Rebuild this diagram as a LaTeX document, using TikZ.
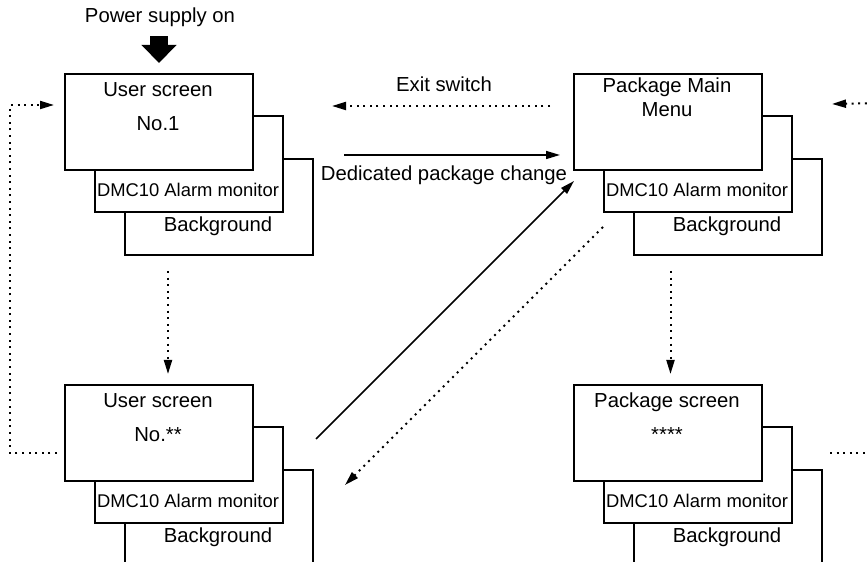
\documentclass[tikz,border=0pt]{standalone}
\usepackage{fontspec}
\setmainfont{Liberation Sans}
\usetikzlibrary{positioning,arrows.meta}

\begin{document}
\begin{tikzpicture}[
  x=0.5pt,y=-0.5pt,
  font=\fontsize{10.15}{12}\selectfont,
  panel/.style={draw,line width=1pt,fill=white,minimum width=94pt,minimum height=48pt,inner sep=0pt,anchor=north west},
  txt/.style={inner sep=0pt,anchor=base},
  small/.style={txt,font=\fontsize{9.2}{11}\selectfont},
  arr/.style={line width=0.8pt,->},
  dotl/.style={line width=1pt,dash pattern=on 1pt off 2.3pt},
  dotarr/.style={dotl,->},
  >={Triangle[length=7pt,width=4pt]}
]
\useasboundingbox (0,0) rectangle (867,565);
\clip (0,0) rectangle (867,562);

% ---------------- user screen No.1 ----------------
\node[txt] (pwr) at (160,23) {Power supply on};
\node[panel] (bkg1) at (124,158) {};
\node[panel] (alm1) at (94,115) {};
\node[panel] (usr1) at (64,73) {};
\node[txt] (usr1a) at (158,97) {User screen};
\node[txt] (usr1b) at (158,131) {No.1};
\node[small] (alm1t) at (188,197) {DMC10 Alarm monitor};
\node[txt] (bkg1t) at (218,232) {Background};

% ---------------- user screen No.** ----------------
\begin{scope}[shift={(0,311)}]
\node[panel] (bkgn) at (124,158) {};
\node[panel] (almn) at (94,115) {};
\node[panel] (usrn) at (64,73) {};
\node[txt] (usrna) at (158,97) {User screen};
\node[txt] (usrnb) at (158,131) {No.**};
\node[small] (almnt) at (188,197) {DMC10 Alarm monitor};
\node[txt] (bkgnt) at (218,232) {Background};
\end{scope}

% ---------------- package main menu ----------------
\begin{scope}[shift={(509,0)}]
\node[panel] (bkgm) at (124,158) {};
\node[panel] (almm) at (94,115) {};
\node[panel] (pkgm) at (64,73) {};
\node[txt] (pkgma) at (158,93) {Package Main};
\node[txt] (pkgmb) at (158,117) {Menu};
\node[small] (almmt) at (188,197) {DMC10 Alarm monitor};
\node[txt] (bkgmt) at (218,232) {Background};
\end{scope}

% ---------------- package screen ----------------
\begin{scope}[shift={(509,311)}]
\node[panel] (bkgs) at (124,158) {};
\node[panel] (alms) at (94,115) {};
\node[panel] (pkgs) at (64,73) {};
\node[txt] (pkgsa) at (158,97) {Package screen};
\node[txt] (pkgsb) at (158,131) {****};
\node[small] (almst) at (188,197) {DMC10 Alarm monitor};
\node[txt] (bkgst) at (218,232) {Background};
\end{scope}

\node[txt] (exitt) at (444,92) {Exit switch};
\node[txt] (dedt) at (444,181) {Dedicated package change};

\coordinate (offr1) at (880,103);
\coordinate (offr2) at (880,453);

% power on
\draw[line width=9pt,-{Triangle[length=9pt,width=17pt]},shorten <=4.3pt,shorten >=5pt]
  (usr1.north |- pwr.south) -- (usr1.north);
% top row
\draw[dotarr,shorten <=11.5pt,shorten >=39pt] ([yshift=8pt]pkgm.west) -- ([yshift=8pt]usr1.east);
\draw[arr,shorten <=45pt,shorten >=6.5pt] ([yshift=-16.5pt]usr1.east) -- ([yshift=-16.5pt]pkgm.west);
% diagonals
\draw[arr] ([shift={(62,55)}]usrn.north east) -- ([shift={(1,10)}]pkgm.south west);
\draw[dotarr] ([shift={(30,56)}]pkgm.south west) -- ([shift={(91,101)}]usrn.north east);
% downwards
\draw[dotarr] ([shift={(9,100)}]usr1.south) -- ([shift={(9,-10)}]usrn.north);
\draw[dotarr] ([shift={(2.5,100)}]pkgm.south) -- ([shift={(2.5,-10)}]pkgs.north);
% back to No.1
\draw[dotarr] ([shift={(-7,20)}]usrn.west) -- ++(-47,0) |- ([shift={(-10,-17)}]usr1.west);
% off to the right
\draw[dotarr] (offr1) -- ([shift={(69,-18)}]pkgm.east);
\draw[dotl] ([shift={(67,20)}]pkgs.east) -- (offr2);
\end{tikzpicture}
\end{document}
